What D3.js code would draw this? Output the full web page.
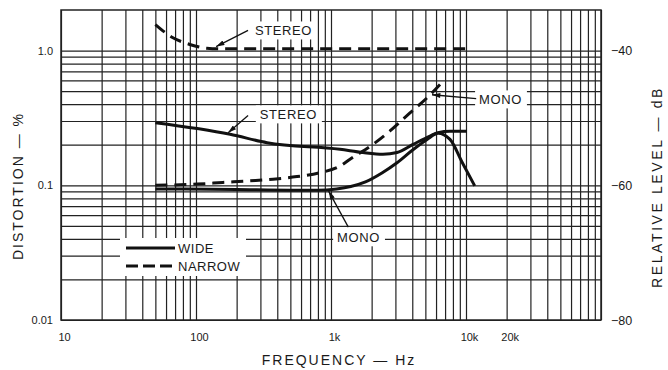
<!DOCTYPE html>
<html>
<head>
<meta charset="utf-8">
<script src="https://cdn.jsdelivr.net/npm/d3@7"></script>
<style>
  body { margin: 0; background: #fff; }
  text { font-family: "Liberation Sans", Arial, sans-serif; fill: #1a1a1a; }
</style>
</head>
<body>
<div id="chart"></div>
<script>
// curves: frequency in Hz, distortion in %
var stereoNarrowFreq = [50, 67, 90, 120, 150, 300, 1000, 3000, 10000];
var stereoNarrowDist = [1.56, 1.25, 1.11, 1.04, 1.03, 1.03, 1.03, 1.03, 1.03];

var stereoWideFreq = [50, 179, 336, 1166, 1726, 2427, 3083, 4050, 5410, 6206, 7610, 10170];
var stereoWideDist = [0.291, 0.239, 0.207, 0.185, 0.175, 0.170, 0.175, 0.201, 0.232, 0.246, 0.252, 0.252];

var monoNarrowFreq = [50, 102, 158, 251, 372, 560, 830, 1166, 1383, 2042, 2734, 3846, 5152, 6420];
var monoNarrowDist = [0.1, 0.102, 0.105, 0.108, 0.111, 0.116, 0.124, 0.139, 0.156, 0.201, 0.253, 0.345, 0.446, 0.56];

var monoWideFreq = [50, 200, 500, 800, 1100, 1400, 1800, 2400, 3083, 4000, 5152, 6206, 7610, 9400, 11600];
var monoWideDist = [0.094, 0.093, 0.092, 0.092, 0.094, 0.098, 0.106, 0.124, 0.147, 0.182, 0.219, 0.243, 0.219, 0.147, 0.099];

var freqTicks = [10, 100, 1000, 10000, 20000];
var freqTickLabels = ["10", "100", "1k", "10k", "20k"];
var distTicks = [0.01, 0.1, 1.0];
var distTickLabels = ["0.01", "0.1", "1.0"];
var dbTicks = [-40, -60, -80];

var margin = { top: 10, right: 67, bottom: 50, left: 61 },
  width = 668 - margin.left - margin.right,
  height = 370 - margin.top - margin.bottom;

var svg = d3.select("#chart")
  .append("svg")
  .attr("width", 668)
  .attr("height", 370)
  .append("g")
  .attr("transform", "translate(" + margin.left + "," + margin.top + ")");

var x = d3.scaleLog().domain([10, 100000]).range([0, width]);
var y = d3.scaleLog().domain([0.01, 2]).range([height, 0]);
// right axis: -40 dB lines up with 1 %, 20 dB per decade
var yDb = d3.scaleLinear().domain([-80, -40 + 20 * Math.log10(2)]).range([height, 0]);

// log grid
var gridX = [];
[10, 100, 1000, 10000].forEach(function (d) {
  for (var k = 1; k <= 9; k++) gridX.push(d * k);
});
gridX.push(100000);
var gridY = [];
[0.01, 0.1].forEach(function (d) {
  for (var k = 1; k <= 9; k++) gridY.push(d * k);
});
gridY.push(1);

svg.append("g")
  .attr("class", "grid")
  .attr("transform", "translate(0," + height + ")")
  .call(d3.axisBottom(x).tickValues(gridX).tickSize(-height).tickFormat(""));
svg.append("g")
  .attr("class", "grid")
  .call(d3.axisLeft(y).tickValues(gridY).tickSize(-width).tickFormat(""));
svg.selectAll(".grid .domain").remove();
svg.selectAll(".grid line").attr("stroke", "#222").attr("stroke-width", 1.2);

svg.append("rect")
  .attr("width", width)
  .attr("height", height)
  .attr("fill", "none")
  .attr("stroke", "#222")
  .attr("stroke-width", 1.5);

// tick labels
var xAxis = svg.append("g")
  .attr("transform", "translate(0," + height + ")")
  .call(d3.axisBottom(x).tickValues(freqTicks).tickSize(0).tickPadding(13)
    .tickFormat(function (d, i) { return freqTickLabels[i]; }));
xAxis.select(".domain").remove();
xAxis.selectAll("text").attr("dx", 3).style("font-size", "11px");

var yAxis = svg.append("g")
  .call(d3.axisLeft(y).tickValues(distTicks).tickSize(0).tickPadding(8)
    .tickFormat(function (d, i) { return distTickLabels[i]; }));
yAxis.select(".domain").remove();
yAxis.selectAll("text").style("font-size", "11px");

var rAxis = svg.append("g")
  .attr("transform", "translate(" + width + ",0)")
  .call(d3.axisRight(yDb).tickValues(dbTicks).tickSize(0).tickPadding(10)
    .tickFormat(function (d) { return "\u2212" + Math.abs(d); }));
rAxis.select(".domain").remove();
rAxis.selectAll("text").style("font-size", "12.5px");

svg.selectAll(".tick text").style("font-family", "'Liberation Sans', Arial, sans-serif").attr("fill", "#1a1a1a");

// axis titles
svg.append("text")
  .attr("x", 278)
  .attr("y", 355)
  .attr("text-anchor", "middle")
  .style("font-size", "14px")
  .style("letter-spacing", "2px")
  .text("FREQUENCY \u2014 Hz");

svg.append("text")
  .attr("transform", "translate(-38," + 176 + ") rotate(-90)")
  .attr("text-anchor", "middle")
  .style("font-size", "14px")
  .style("letter-spacing", "2px")
  .text("DISTORTION \u2014 %");

svg.append("text")
  .attr("transform", "translate(601," + 177 + ") rotate(-90)")
  .attr("text-anchor", "middle")
  .style("font-size", "14px")
  .style("letter-spacing", "2.6px")
  .text("RELATIVE LEVEL \u2014 dB");

// curves
var line = d3.line()
  .x(function (d) { return x(d[0]); })
  .y(function (d) { return y(d[1]); })
  .curve(d3.curveMonotoneX);

function zipSeries(f, v) {
  return f.map(function (d, i) { return [d, v[i]]; });
}

var series = [
  { data: zipSeries(stereoNarrowFreq, stereoNarrowDist), dash: "12,7" },
  { data: zipSeries(monoNarrowFreq, monoNarrowDist), dash: "12,7" },
  { data: zipSeries(stereoWideFreq, stereoWideDist), dash: null },
  { data: zipSeries(monoWideFreq, monoWideDist), dash: null }
];

svg.selectAll(".curve")
  .data(series)
  .enter()
  .append("path")
  .attr("class", "curve")
  .attr("d", function (d) { return line(d.data); })
  .attr("fill", "none")
  .attr("stroke", "#111")
  .attr("stroke-width", 3)
  .attr("stroke-dasharray", function (d) { return d.dash; });

// labels with leader arrows
svg.append("defs").append("marker")
  .attr("id", "arrow")
  .attr("viewBox", "0 0 10 6")
  .attr("refX", 10)
  .attr("refY", 3)
  .attr("markerWidth", 12)
  .attr("markerHeight", 5)
  .attr("markerUnits", "userSpaceOnUse")
  .attr("orient", "auto")
  .append("path")
  .attr("d", "M0,0L10,3L0,6Z")
  .attr("fill", "#111");

var notes = [
  { text: "STEREO", tf: 273, tv: 1.41, from: [243, 1.41], to: [141, 1.07] },
  { text: "STEREO", tf: 297, tv: 0.336, from: [243, 0.33], to: [173, 0.245] },
  { text: "MONO", tf: 12500, tv: 0.434, from: [11900, 0.44], to: [5600, 0.47] },
  { text: "MONO", tf: 1110, tv: 0.0411, from: [1344, 0.0489], to: [960, 0.0905] }
];

notes.forEach(function (n) {
  var tx = x(n.tf), ty = y(n.tv);
  var box = svg.append("rect")
    .attr("x", tx - 4)
    .attr("y", ty - 9)
    .attr("height", 18)
    .attr("fill", "#fff");
  var label = svg.append("text")
    .attr("x", tx)
    .attr("y", ty + 4.5)
    .style("font-size", "13px")
    .style("letter-spacing", "0.6px")
    .text(n.text);
  box.attr("width", label.node().getComputedTextLength() + 9);
  svg.append("line")
    .attr("x1", x(n.from[0]))
    .attr("y1", y(n.from[1]))
    .attr("x2", x(n.to[0]))
    .attr("y2", y(n.to[1]))
    .attr("stroke", "#111")
    .attr("stroke-width", 1.3)
    .attr("marker-end", "url(#arrow)");
});

// legend
var legend = svg.append("g").attr("transform", "translate(59,228)");
legend.append("rect")
  .attr("x", 0)
  .attr("y", 0)
  .attr("width", 126)
  .attr("height", 38)
  .attr("fill", "#fff");
var legendItems = [{ name: "WIDE", dash: null }, { name: "NARROW", dash: "12,5" }];
legendItems.forEach(function (d, i) {
  legend.append("line")
    .attr("x1", 6).attr("x2", 55)
    .attr("y1", 10 + i * 18).attr("y2", 10 + i * 18)
    .attr("stroke", "#111")
    .attr("stroke-width", 3)
    .attr("stroke-dasharray", d.dash);
  legend.append("text")
    .attr("x", 58)
    .attr("y", 15 + i * 18)
    .style("font-size", "13px")
    .style("letter-spacing", "0.5px")
    .text(d.name);
});
</script>
</body>
</html>
